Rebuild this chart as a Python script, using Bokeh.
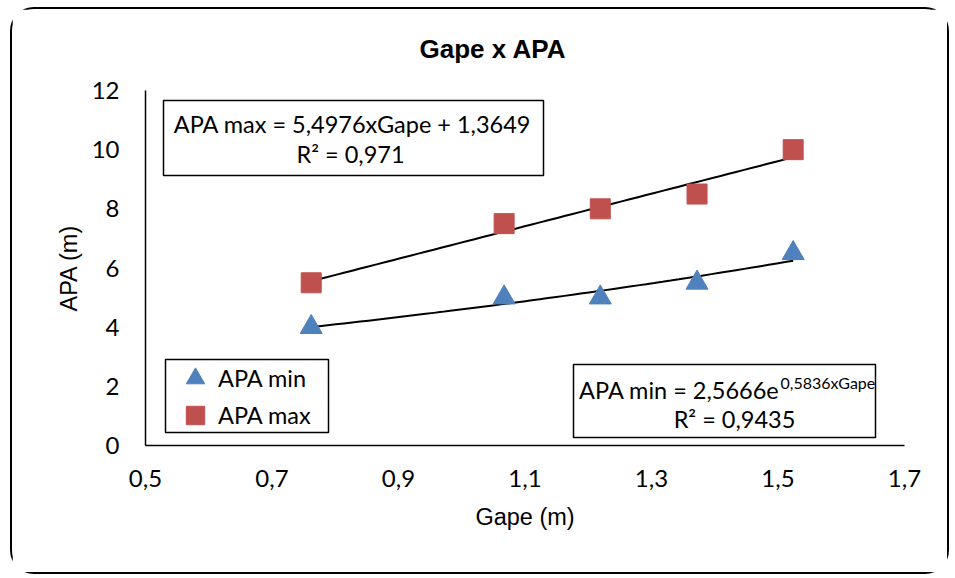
import numpy as np
from bokeh.plotting import figure
from bokeh.models import (Range1d, FixedTicker, CustomJSTickFormatter, Legend,
                          LegendItem, BoxAnnotation, Label)
from bokeh.embed import file_html
from bokeh.resources import INLINE

# ---- data ----
gape = [0.762, 1.067, 1.219, 1.372, 1.524]
apa_min = [4.0, 5.0, 5.0, 5.5, 6.5]
apa_max = [5.5, 7.5, 8.0, 8.5, 10.0]
x_ticks = [0.5, 0.7, 0.9, 1.1, 1.3, 1.5, 1.7]
y_ticks = [0, 2, 4, 6, 8, 10, 12]
max_fit = (5.4976, 1.3649)   # slope, intercept
min_fit = (2.5666, 0.5836)   # a, b  ->  a*exp(b*x)
title_text = "Gape x APA"
x_label = "Gape (m)"
y_label = "APA (m)"
eq_max = ["APA max = 5,4976xGape + 1,3649", "R² = 0,971"]
eq_min = ["APA min = 2,5666e", "0,5836xGape", "R² = 0,9435"]
series_names = ["APA min", "APA max"]

BLUE = "#4F81BD"
RED = "#C0504D"
CAL = "Lato"

# page-pixel -> data helpers (frame: x 145..904, y 90..445)
FX0, FX1, FY0, FY1 = 145, 904, 90, 445
OX, OY = 12, 9   # page position of the figure content (margin + border)
def dx(px):
    return 0.5 + (px - FX0) * 1.2 / (FX1 - FX0)
def dy(py):
    return 12 - (py - FY0) * 12 / (FY1 - FY0)

W, H = 939, 567
p = figure(width=W, height=H, x_range=Range1d(0.5, 1.7), y_range=Range1d(0, 12),
           output_backend="svg", toolbar_location=None,
           min_border_left=FX0 - OX, min_border_right=W - (FX1 - OX),
           min_border_top=FY0 - OY, min_border_bottom=H - (FY1 - OY))
p.styles = {"border": "2px solid #000000", "border-radius": "24px",
            "margin-left": "10px", "margin-top": "7px"}
p.outline_line_color = None
p.xgrid.grid_line_color = None
p.ygrid.grid_line_color = None

p.title.text = title_text
p.title.align = "left"
p.title.offset = 274
p.title.text_font = "Liberation Sans"
p.title.text_font_style = "bold"
p.title.text_font_size = "26px"
p.title.text_color = "#000000"
p.title.vertical_align = "top"
p.title.standoff = 49

fmt = CustomJSTickFormatter(code="return tick.toFixed(tick % 1 === 0 ? 0 : 1).replace('.', ',');")
for ax, ticks in ((p.xaxis, x_ticks), (p.yaxis, y_ticks)):
    ax.ticker = FixedTicker(ticks=ticks)
    ax.formatter = fmt
    ax.major_tick_line_color = None
    ax.minor_tick_line_color = None
    ax.axis_line_color = "#000000"
    ax.axis_line_width = 1.5
    ax.major_label_text_font = CAL
    ax.major_label_text_font_size = "24px"
    ax.major_label_text_color = "#000000"
    ax.axis_label_text_font = "Liberation Sans"
    ax.axis_label_text_font_size = "23.5px"
    ax.axis_label_text_font_style = "normal"
    ax.axis_label_text_color = "#000000"
p.xaxis.axis_label = x_label
p.yaxis.axis_label = y_label
p.xaxis.major_label_standoff = 18
p.yaxis.major_label_standoff = 20
p.xaxis.axis_label_standoff = 14
p.yaxis.axis_label_standoff = 7

# trend lines
xt = np.linspace(min(gape), max(gape), 60)
p.line(xt, max_fit[0] * xt + max_fit[1], line_color="black", line_width=2)
p.line(xt, min_fit[0] * np.exp(min_fit[1] * xt), line_color="black", line_width=2)

r_min = p.scatter(gape, apa_min, marker="triangle", size=22, fill_color=BLUE,
                  line_color=BLUE)
r_max = p.scatter(gape, apa_max, marker="square", size=20, fill_color=RED,
                  line_color=RED)

# equation / legend boxes
def box(l, r, t, b):
    p.add_layout(BoxAnnotation(left=dx(l), right=dx(r), top=dy(t), bottom=dy(b),
                               fill_color="white", fill_alpha=1,
                               line_color="black", line_width=1.5, line_alpha=1))

box(163, 543, 100, 175)
box(573, 875, 364, 437)
box(165, 328, 359, 432)

def lab(x, y, t, size="23.5px", align="center"):
    p.add_layout(Label(x=dx(x), y=dy(y), text=t, text_font=CAL, text_font_size=size,
                       text_align=align, text_baseline="middle", text_color="black"))

lab(352, 123, eq_max[0])
lab(350, 153, eq_max[1])
lab(779, 389, eq_min[0], align="right")
lab(780, 382, eq_min[1], size="16px", align="left")
lab(734, 418, eq_min[2])

def legend_row(name, rend, loc_y):
    lg = Legend(items=[LegendItem(label=name, renderers=[rend])],
                location=(27, loc_y), padding=0, margin=0, spacing=0,
                glyph_width=46, glyph_height=46, label_standoff=0,
                label_text_font=CAL, label_text_font_size="23.5px",
                label_text_color="black",
                border_line_color=None, background_fill_alpha=0)
    p.add_layout(lg)

legend_row(series_names[0], r_min, 44)
legend_row(series_names[1], r_max, 7)

open("out.html", "w").write(file_html(p, INLINE))
